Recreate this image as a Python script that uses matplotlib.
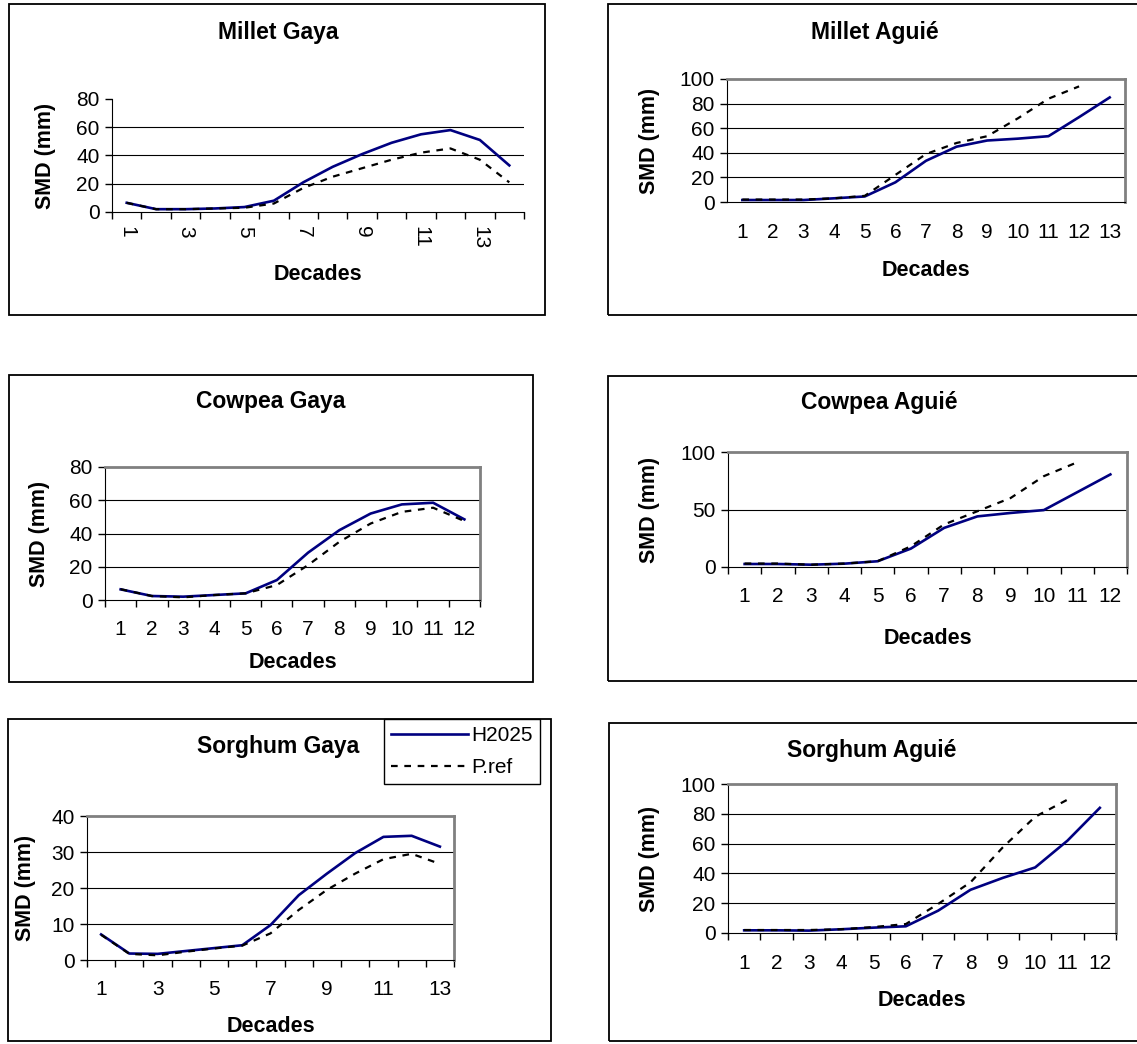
import numpy as np
import matplotlib
matplotlib.use("Agg")
import matplotlib.pyplot as plt
from matplotlib.patches import Rectangle

plt.rcParams['font.family'] = ['Liberation Sans', 'DejaVu Sans']

W, H = 1137, 1044

# SMD (mm) per decade
millet_gaya_h2025 = [6.5, 2, 2, 2.5, 3.5, 8, 21, 32, 41, 49, 55, 58, 51, 33]
millet_gaya_pref = [6.5, 2, 2, 2.5, 3, 6, 17, 25, 31, 37, 42, 45, 37, 21]

millet_aguie_h2025 = [1.6, 1.6, 1.6, 3, 4.5, 16, 33.5, 45, 50, 51.5, 53.5, 69, 85]
millet_aguie_pref = [2, 2, 2, 3, 5, 22, 39, 48, 53.5, 68, 84, 94]

cowpea_gaya_h2025 = [6.4, 2.4, 2, 3, 4, 12, 28.5, 42, 52, 57.5, 58.5, 48.5]
cowpea_gaya_pref = [6.5, 2.4, 1.6, 3, 4, 9, 21, 35, 46, 53, 55.5, 47.5]

cowpea_aguie_h2025 = [2.6, 2.6, 2, 2.9, 5, 16, 34, 44, 47, 49.5, 65, 80.5]
cowpea_aguie_pref = [3, 3, 2, 3, 5, 18, 37, 48.5, 60, 79, 91]

sorghum_gaya_h2025 = [7.1, 1.8, 1.7, 2.5, 3.3, 4.1, 9.7, 18, 24, 29.7, 34.2, 34.5, 31.5]
sorghum_gaya_pref = [7, 1.7, 1.3, 2.3, 3.2, 4, 7.4, 13.9, 19.5, 24, 28, 29.5, 26.7]

sorghum_aguie_h2025 = [1.8, 1.8, 1.6, 2.5, 3.6, 4.5, 15, 29, 37, 44, 62, 84]
sorghum_aguie_pref = [2, 2, 2, 2.5, 4, 6, 19.5, 34, 57.5, 78, 89.5]

series_names = ['H2025', 'P.ref']
navy = '#000080'
grey = '#808080'


def fx(px):
    return px / W


def fy(py):
    return 1 - py / H


fig = plt.figure(figsize=(W / 100, H / 100), dpi=100)


def panel(title, h2025, pref, n, yticks, box, axbox, title_xy, xlab_y, ylab_x,
          odd_only=False, rotate=False, frame=True, boundary_ticks=True, xpad=14.5):
    # outer chart box
    bx0, by0, bx1, by1 = box
    fig.add_artist(Rectangle((fx(bx0), fy(by1)), (bx1 - bx0) / W, (by1 - by0) / H,
                             transform=fig.transFigure, fill=False,
                             ec='black', lw=1.3))
    x0, y0, x1, y1 = axbox
    ax = fig.add_axes([fx(x0), fy(y1), (x1 - x0) / W, (y1 - y0) / H])
    decades = np.arange(1, n + 1)
    ax.plot(decades[:len(h2025)], h2025, color=navy, lw=1.9, label=series_names[0])
    ax.plot(decades[:len(pref)], pref, color='black', lw=1.6,
            linestyle=(0, (3, 3)), label=series_names[1])
    ax.set_xlim(0.5, n + 0.5)
    ax.set_ylim(yticks[0], yticks[-1])
    ax.set_yticks(yticks)
    for t in yticks[1:-1]:
        ax.axhline(t, color='black', lw=0.8, zorder=0)
    labels = decades[::2] if odd_only else decades
    ax.set_xticks(labels)
    ax.set_xticklabels([str(v) for v in labels], rotation=-90 if rotate else 0)
    ax.tick_params(axis='x', which='major', length=0, pad=xpad, labelsize=15)
    if boundary_ticks:
        ax.set_xticks(np.arange(0.5, n + 1), minor=True)
        ax.tick_params(axis='x', which='minor', length=5, width=1, direction='out')
    ax.tick_params(axis='y', length=5, width=1, pad=4, labelsize=15)
    ax.spines['left'].set_color('black')
    ax.spines['bottom'].set_color('black')
    if frame:
        for s in ('top', 'right'):
            ax.spines[s].set_color(grey)
            ax.spines[s].set_linewidth(2)
    else:
        ax.spines['top'].set_visible(False)
        ax.spines['right'].set_visible(False)
    ax.set_facecolor('none')
    fig.text(fx(title_xy[0]), fy(title_xy[1]), title, ha='center', va='center',
             fontsize=16.5, fontweight='bold')
    fig.text(fx((x0 + x1) / 2), fy(xlab_y), 'Decades', ha='center', va='center',
             fontsize=15.5, fontweight='bold')
    fig.text(fx(ylab_x), fy((y0 + y1) / 2), 'SMD (mm)', ha='center', va='center',
             rotation=90, fontsize=15.5, fontweight='bold')
    return ax


panel('Millet Gaya', millet_gaya_h2025, millet_gaya_pref, 14, [0, 20, 40, 60, 80],
      (9, 4, 545, 315), (112, 99, 524, 212), (278, 32), 274, 46,
      odd_only=True, rotate=True, frame=False, xpad=10)

panel('Millet Aguié', millet_aguie_h2025, millet_aguie_pref, 13, [0, 20, 40, 60, 80, 100],
      (608, 4, 1145, 315), (727, 79, 1125, 202), (875, 32), 270, 650,
      boundary_ticks=False, xpad=15)

panel('Cowpea Gaya', cowpea_gaya_h2025, cowpea_gaya_pref, 12, [0, 20, 40, 60, 80],
      (9, 375, 533, 682), (105, 467, 480, 600), (271, 402), 662, 39, xpad=14.5)

panel('Cowpea Aguié', cowpea_aguie_h2025, cowpea_aguie_pref, 12, [0, 50, 100],
      (608, 376, 1145, 681), (728, 452, 1127, 567), (879, 403), 638, 650, xpad=14.5)

ax5 = panel('Sorghum Gaya', sorghum_gaya_h2025, sorghum_gaya_pref, 13, [0, 10, 20, 30, 40],
            (8, 719, 551, 1041), (87, 816, 454, 960), (278, 747), 1027, 26,
            odd_only=True, xpad=14.5)

panel('Sorghum Aguié', sorghum_aguie_h2025, sorghum_aguie_pref, 12, [0, 20, 40, 60, 80, 100],
      (609, 723, 1145, 1041), (728, 784, 1116, 933), (872, 750), 1001, 650, xpad=15)

leg = fig.legend(*ax5.get_legend_handles_labels(), loc='upper left',
                 bbox_to_anchor=(fx(384), fy(719)), fontsize=15,
                 handlelength=3.7, handletextpad=0.15, borderpad=0.35,
                 labelspacing=0.6, fancybox=False, framealpha=1,
                 edgecolor='black', borderaxespad=0)
leg.get_frame().set_linewidth(1)

fig.savefig('out.png', dpi=100)
